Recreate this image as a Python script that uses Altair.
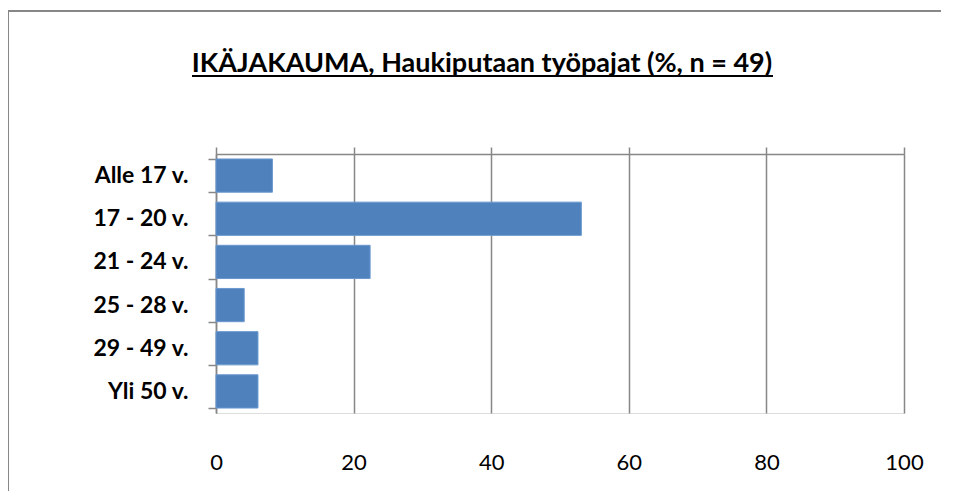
import altair as alt
import pandas as pd

TITLE = "IKÄJAKAUMA, Haukiputaan työpajat (%,  n = 49)"
categories = ["Alle 17 v.", "17 - 20 v.", "21 - 24 v.", "25 - 28 v.", "29 - 49 v.", "Yli 50 v."]
values = [8.2, 53.1, 22.4, 4.1, 6.1, 6.1]
x_ticks = [0, 20, 40, 60, 80, 100]

df = pd.DataFrame({"cat": categories, "val": values})

W, H = 688, 259
FONT = "Lato"
GRAY = "#878787"
BLUE = "#4F81BD"

y_axis = alt.Axis(title=None, tickBand="extent", tickSize=8, tickColor=GRAY,
                  tickWidth=1.5, domain=True, domainColor=GRAY, domainWidth=1.5,
                  labelFont=FONT, labelFontSize=23, labelFontWeight="bold",
                  labelColor="black", labelPadding=20, grid=False)
y_scale = alt.Scale(paddingInner=0.23, paddingOuter=0.115)

bars = alt.Chart(df).mark_bar(color=BLUE, stroke="#6A98CE", strokeWidth=1).encode(
    x=alt.X("val:Q", scale=alt.Scale(domain=[0, 100], nice=False),
            axis=alt.Axis(orient="top", values=x_ticks, labels=False, ticks=True,
                          tickSize=7, tickColor=GRAY, tickWidth=1.5,
                          domain=True, domainColor=GRAY, domainWidth=1.5,
                          grid=True, gridColor=GRAY, gridWidth=1.5, gridOpacity=1,
                          title=None)),
    y=alt.Y("cat:N", sort=categories, scale=y_scale, axis=y_axis),
)

labels_layer = alt.Chart(df).mark_bar(opacity=0).encode(
    x=alt.X("val:Q", scale=alt.Scale(domain=[0, 100], nice=False),
            axis=alt.Axis(orient="bottom", values=x_ticks, labels=True, ticks=False,
                          tickSize=0, domain=False, grid=False, title=None,
                          labelFlush=False, labelOverlap=False,
                          labelFont=FONT, labelFontSize=22, labelColor="black",
                          labelBaseline="alphabetic", labelPadding=56)),
    y=alt.Y("cat:N", sort=categories, scale=y_scale, axis=y_axis),
)

one = pd.DataFrame({"t": [TITLE]})

title_text = alt.Chart(one).mark_text(
    font=FONT, fontSize=27, fontWeight="bold", align="center",
    baseline="alphabetic", color="black"
).encode(text="t:N", x=alt.value(266), y=alt.value(-82))

underline = alt.Chart(one).mark_rule(color="black", strokeWidth=2).encode(
    x=alt.value(-24), x2=alt.value(557), y=alt.value(-78))

frame_left = alt.Chart(one).mark_rule(color=GRAY, strokeWidth=2).encode(
    x=alt.value(-208), y=alt.value(-143), y2=alt.value(H + 90))
frame_top = alt.Chart(one).mark_rule(color=GRAY, strokeWidth=2).encode(
    y=alt.value(-143), x=alt.value(-208), x2=alt.value(W + 60))

chart = alt.layer(frame_left, frame_top, title_text, underline, bars, labels_layer).resolve_scale(
    x="independent"
).properties(
    width=W, height=H,
    autosize=alt.AutoSizeParams(type="none"),
    padding={"left": 208, "top": 146, "right": 37, "bottom": 78},
).configure_view(stroke=None).configure(background="white")

chart.save("out.html", embed_options={"renderer": "svg", "actions": False})
